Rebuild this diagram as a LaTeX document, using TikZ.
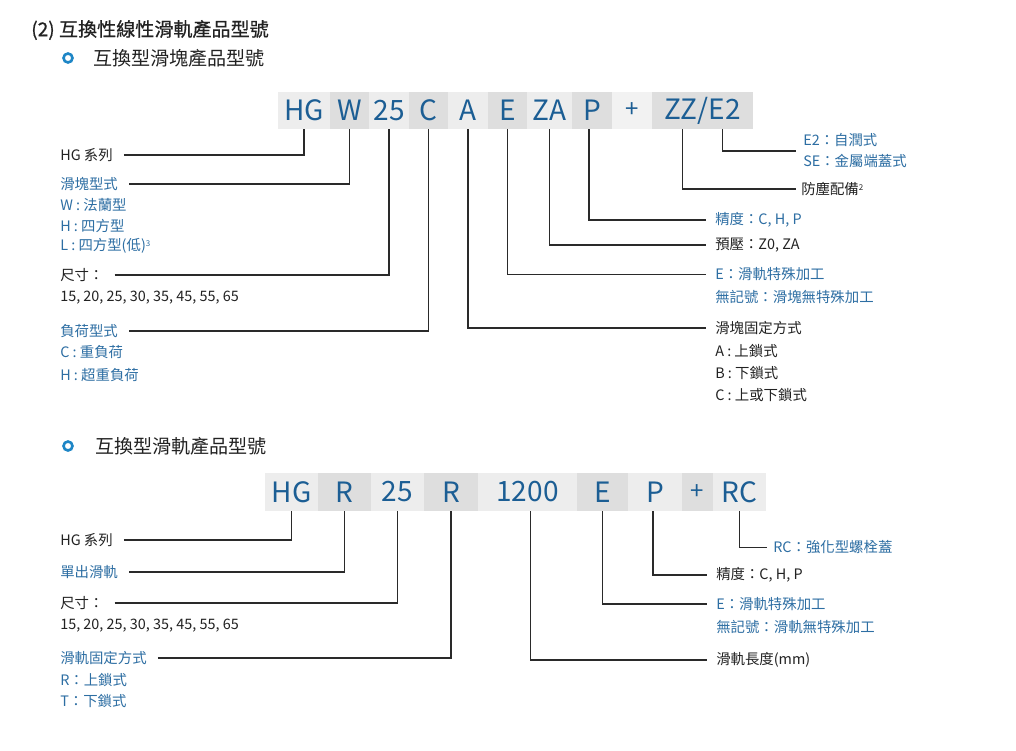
\documentclass[tikz,border=0pt]{standalone}
\usepackage{fontspec}
\setmainfont{Noto Sans CJK TC}
\newfontfamily\headfont[FakeBold=0.6]{Noto Sans CJK TC}
\newdimen\pxu \pxu=0.75pt
\newcommand{\supnum}[1]{\raisebox{0.55ex}{\fontsize{6pt}{6pt}\selectfont #1}}
\definecolor{codeblue}{HTML}{1C5E94}
\definecolor{lblblue}{HTML}{2D6EA3}
\definecolor{txt}{HTML}{222222}
\definecolor{boxA}{HTML}{EDEDED}
\definecolor{boxB}{HTML}{DEDEDE}
\definecolor{boxC}{HTML}{F2F2F2}
\definecolor{lineC}{HTML}{2A2A2A}
\definecolor{bullet}{HTML}{1E86C6}
\tikzset{
  codebox/.style={fill=#1, inner sep=0pt, text=codeblue, font=\fontsize{21pt}{21pt}\selectfont},
  plusbox/.style={codebox=#1, font=\fontsize{18pt}{18pt}\selectfont},
  lbl/.style={anchor=west, inner sep=0pt, text=txt, font=\fontsize{10.8pt}{13pt}\selectfont},
  blbl/.style={lbl, text=lblblue},
  head/.style={anchor=west, inner sep=0pt, text=txt, font=\fontsize{14.3pt}{16pt}\selectfont},
  conn/.style={draw=lineC, line width=1.4\pxu},
  ring/.style={draw=bullet, line width=2.6\pxu},
}
\begin{document}
\begin{tikzpicture}[x=0.75pt,y=-0.75pt]
\useasboundingbox (0,0) rectangle (1016,750);
\fill[white] (0,0) rectangle (1016,750);

% headings
\node[head, font=\fontsize{14.3pt}{16pt}\headfont] (h0) at (31,30) {(2) 互換性線性滑軌產品型號};
\node[ring, circle, inner sep=0pt, minimum size=9\pxu] (bu1) at (68,58) {};
\node[head] (h1) at (93,58) {互換型滑塊產品型號};
\node[ring, circle, inner sep=0pt, minimum size=9\pxu] (bu2) at (68,446) {};
\node[head] (h2) at (95,446) {互換型滑軌產品型號};

% ---------- top code row ----------
\begin{scope}[every node/.append style={minimum height=37\pxu}]
\node[codebox=boxA, minimum width=52\pxu] (t1) at (304,110.5) {HG};
\node[codebox=boxB, minimum width=39.5\pxu] (t2) at (349.5,110.5) {W};
\node[codebox=boxA, minimum width=40.5\pxu] (t3) at (389,110.5) {25};
\node[codebox=boxB, minimum width=39.5\pxu] (t4) at (428.5,110.5) {C};
\node[codebox=boxA, minimum width=40.5\pxu] (t5) at (468,110.5) {A};
\node[codebox=boxB, minimum width=39.5\pxu] (t6) at (507.5,110.5) {E};
\node[codebox=boxA, minimum width=45.5\pxu] (t7) at (549.5,110.5) {ZA};
\node[codebox=boxB, minimum width=40.5\pxu] (t8) at (592,110.5) {P};
\node[plusbox=boxC, minimum width=40.5\pxu] (t9) at (632,110.5) {+};
\node[codebox=boxB, minimum width=101\pxu] (t10) at (702.5,110.5) {ZZ/E2};
\end{scope}

% top left labels
\node[lbl] (l1) at (60,155) {HG 系列};
\node[blbl] (l2) at (60,184) {滑塊型式};
\node[blbl] (l2a) at (60,205) {W : 法蘭型};
\node[blbl] (l2b) at (60,226) {H : 四方型};
\node[blbl] (l2c) at (60,246) {L : 四方型(低)\supnum{3}};
\node[lbl] (l3) at (60,275) {尺寸：};
\node[lbl] (l3a) at (60,298) {15, 20, 25, 30, 35, 45, 55, 65};
\node[blbl] (l4) at (60,331) {負荷型式};
\node[blbl] (l4a) at (60,352) {C : 重負荷};
\node[blbl] (l4b) at (60,375) {H : 超重負荷};

% top right labels
\node[blbl, align=left, font=\fontsize{10.8pt}{15.75pt}\selectfont] (r1) at (803,151) {E2：自潤式\\SE：金屬端蓋式};
\node[lbl] (r2) at (801,189) {防塵配備\supnum{2}};
\node[blbl] (r3) at (715,220) {精度：C, H, P};
\node[lbl] (r4) at (715,245) {預壓：Z0, ZA};
\node[blbl] (r5) at (715,274.5) {E：滑軌特殊加工};
\node[blbl] (r5a) at (715,297) {無記號：滑塊無特殊加工};
\node[lbl] (r6) at (715,328) {滑塊固定方式};
\node[lbl] (r6a) at (715,351) {A : 上鎖式};
\node[lbl] (r6b) at (715,373) {B : 下鎖式};
\node[lbl] (r6c) at (715,395) {C : 上或下鎖式};

% top connectors
\draw[conn] ([xshift=11\pxu]l1.east) -| (t1.south);
\draw[conn] ([xshift=11\pxu]l2.east) -| (t2.south);
\draw[conn] ([xshift=11\pxu]l3.east) -| (t3.south);
\draw[conn] ([xshift=11\pxu]l4.east) -| (t4.south);
\draw[conn] (t5.south) |- ([xshift=-9\pxu]r6.west);
\draw[conn] (t6.south) |- ([xshift=-9\pxu]r5.west);
\draw[conn] (t7.south) |- ([xshift=-9\pxu]r4.west);
\draw[conn] ([xshift=-3\pxu]t8.south) |- ([xshift=-9\pxu]r3.west);
\draw[conn] ([xshift=-20\pxu]t10.south) |- ([xshift=-5\pxu]r2.west);
\draw[conn] ([xshift=20\pxu]t10.south) |- ([xshift=-7\pxu]r1.west);

% ---------- bottom code row ----------
\begin{scope}[every node/.append style={minimum height=38\pxu}]
\node[codebox=boxA, minimum width=53.5\pxu] (b1) at (291.5,492) {HG};
\node[codebox=boxB, minimum width=53.5\pxu] (b2) at (344.5,492) {R};
\node[codebox=boxA, minimum width=53.5\pxu] (b3) at (397.5,492) {25};
\node[codebox=boxB, minimum width=54.5\pxu] (b4) at (451,492) {R};
\node[codebox=boxA, minimum width=99.5\pxu] (b5) at (527.5,492) {1200};
\node[codebox=boxB, minimum width=51.5\pxu] (b6) at (602.5,492) {E};
\node[codebox=boxA, minimum width=54.5\pxu] (b7) at (655,492) {P};
\node[plusbox=boxB, minimum width=31.5\pxu] (b8) at (697.5,492) {+};
\node[codebox=boxA, minimum width=53.5\pxu] (b9) at (739.5,492) {RC};
\end{scope}

% bottom left labels
\node[lbl] (m1) at (60,540) {HG 系列};
\node[blbl] (m2) at (60,572) {單出滑軌};
\node[lbl] (m3) at (60,603) {尺寸：};
\node[lbl] (m3a) at (60,626) {15, 20, 25, 30, 35, 45, 55, 65};
\node[blbl] (m4) at (60,658) {滑軌固定方式};
\node[blbl] (m4a) at (60,680) {R：上鎖式};
\node[blbl] (m4b) at (60,701) {T：下鎖式};

% bottom right labels
\node[blbl] (n1) at (773,547.5) {RC：強化型螺栓蓋};
\node[lbl] (n2) at (716,575) {精度：C, H, P};
\node[blbl] (n3) at (716,604) {E：滑軌特殊加工};
\node[blbl] (n3a) at (716,627) {無記號：滑軌無特殊加工};
\node[lbl] (n4) at (716,660) {滑軌長度(mm)};

% bottom connectors
\draw[conn] ([xshift=11\pxu]m1.east) -| (b1.south);
\draw[conn] ([xshift=11\pxu]m2.east) -| (b2.south);
\draw[conn] ([xshift=11\pxu]m3.east) -| (b3.south);
\draw[conn] ([xshift=11\pxu]m4.east) -| (b4.south);
\draw[conn] ([xshift=3\pxu]b5.south) |- ([xshift=-9\pxu]n4.west);
\draw[conn] (b6.south) |- ([xshift=-9\pxu]n3.west);
\draw[conn] ([xshift=-2\pxu]b7.south) |- ([xshift=-9\pxu]n2.west);
\draw[conn] (b9.south) |- ([xshift=-6\pxu]n1.west);
\end{tikzpicture}
\end{document}
